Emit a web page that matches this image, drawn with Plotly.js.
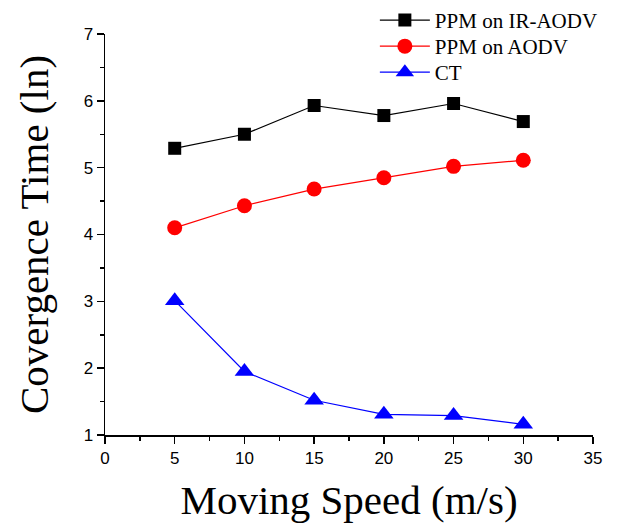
<!DOCTYPE html>
<html>
<head>
<meta charset="utf-8">
<script src="https://cdn.plot.ly/plotly-3.0.1.min.js"></script>
<style>html,body{margin:0;padding:0;background:#fff;}#chart{width:620px;height:525px;}</style>
</head>
<body>
<div id="chart"></div>
<script>
const speeds = [5, 10, 15, 20, 25, 30];
const ppmIrAodv = [5.29, 5.50, 5.93, 5.78, 5.96, 5.69];
const ppmAodv = [4.10, 4.43, 4.68, 4.85, 5.02, 5.11];
const ct = [3.01, 1.95, 1.52, 1.31, 1.29, 1.16];
const seriesNames = ['PPM on IR-AODV', 'PPM on AODV', 'CT'];

const traces = [
  {x: speeds, y: ppmIrAodv, name: seriesNames[0], mode: 'lines+markers', legend: 'legend',
   line: {color: '#000000', width: 1.2}, marker: {symbol: 'square', size: 13, color: '#000000'}},
  {x: speeds, y: ppmAodv, name: seriesNames[1], mode: 'lines+markers', legend: 'legend2',
   line: {color: '#ff0000', width: 1.2}, marker: {symbol: 'circle', size: 15, color: '#ff0000'}},
  {x: speeds, y: ct, name: seriesNames[2], mode: 'lines+markers', legend: 'legend3',
   line: {color: '#0000ff', width: 1.2}, marker: {symbol: 'triangle-up', size: 17, color: '#0000ff'}}
];

const legendFont = {family: 'Liberation Serif, Times New Roman, serif', size: 21, color: '#000'};
function legendAt(y) {
  return {x: 0.553, y: y, xanchor: 'left', yanchor: 'top', bgcolor: 'rgba(0,0,0,0)',
          itemwidth: 50, font: legendFont};
}

const layout = {
  width: 620, height: 525,
  margin: {l: 105, r: 27, t: 34, b: 90, autoexpand: false},
  paper_bgcolor: '#ffffff', plot_bgcolor: '#ffffff',
  showlegend: true,
  legend: legendAt(1.085),
  legend2: legendAt(1.020),
  legend3: legendAt(0.955),
  xaxis: {
    range: [0, 35], dtick: 5, tick0: 0, showgrid: false, zeroline: false,
    showline: true, linecolor: '#000', linewidth: 1.5,
    ticks: 'outside', ticklen: 7, tickwidth: 1.5, tickcolor: '#000',
    minor: {dtick: 2.5, ticks: 'outside', ticklen: 4, tickwidth: 1.5, tickcolor: '#000', showgrid: false},
    tickfont: {family: 'Liberation Sans, Arial, sans-serif', size: 17, color: '#000'},
    title: {text: 'Moving Speed (m/s)', standoff: 18,
            font: {family: 'Liberation Serif, Times New Roman, serif', size: 41, color: '#000'}}
  },
  yaxis: {
    range: [1, 7], dtick: 1, tick0: 1, showgrid: false, zeroline: false,
    showline: true, linecolor: '#000', linewidth: 1.5,
    ticks: 'outside', ticklen: 7, tickwidth: 1.5, tickcolor: '#000',
    minor: {dtick: 0.5, ticks: 'outside', ticklen: 4, tickwidth: 1.5, tickcolor: '#000', showgrid: false},
    tickfont: {family: 'Liberation Sans, Arial, sans-serif', size: 17, color: '#000'},
    title: {text: 'Covergence Time (ln)\u00A0\u00A0', standoff: 22,
            font: {family: 'Liberation Serif, Times New Roman, serif', size: 41, color: '#000'}}
  }
};

Plotly.newPlot('chart', traces, layout, {displayModeBar: false, staticPlot: true});
</script>
</body>
</html>
